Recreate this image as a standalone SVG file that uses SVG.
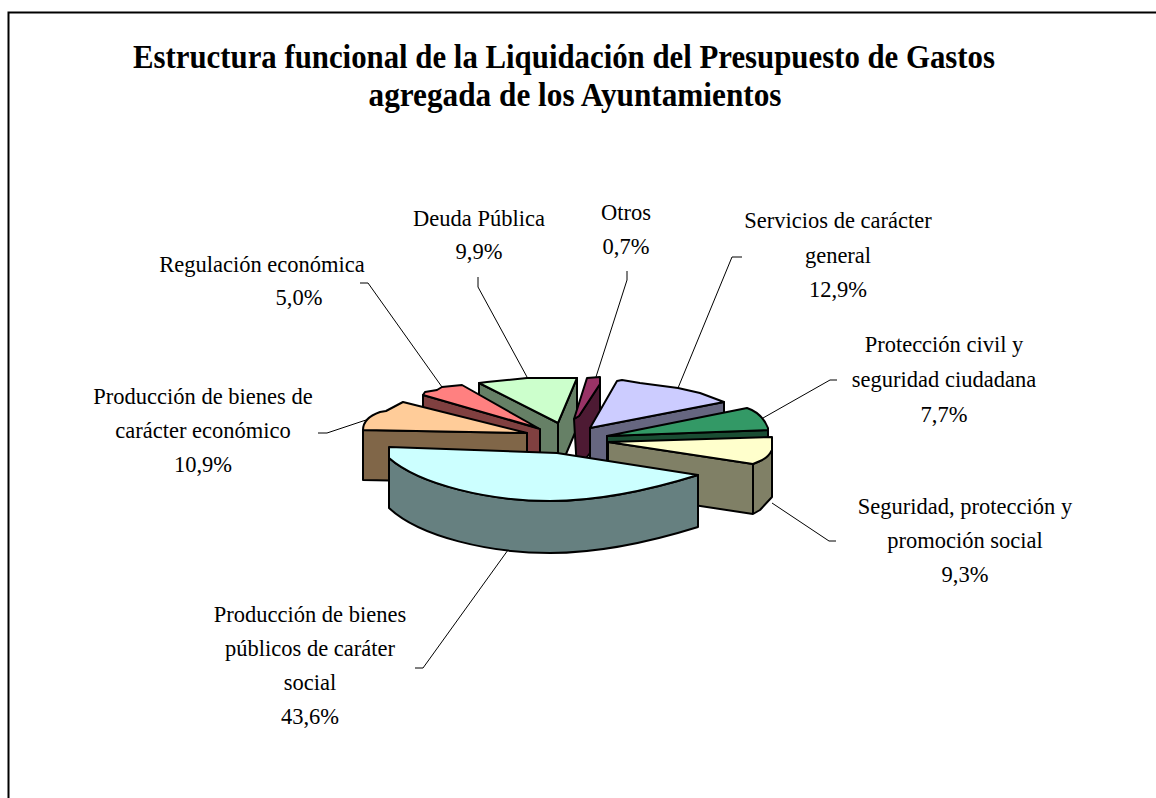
<svg xmlns="http://www.w3.org/2000/svg" width="1156" height="798" viewBox="0 0 1156 798">
<style>
.t{font-family:"Liberation Serif","Times New Roman",serif;font-size:22.5px;fill:#000;text-anchor:middle}
.ti{font-family:"Liberation Serif","Times New Roman",serif;font-size:33px;font-weight:bold;fill:#000;text-anchor:middle}
.s{stroke:#000;stroke-width:2;stroke-linejoin:round}
.ln{fill:none;stroke:#000;stroke-width:1}
</style>
<rect width="1156" height="798" fill="#fff"/>
<path d="M8.5,800 V12.5 H1160" fill="none" stroke="#000" stroke-width="2"/>
<g id="title">
<text class="ti" x="564" y="68" textLength="862" lengthAdjust="spacingAndGlyphs">Estructura funcional de la Liquidación del Presupuesto de Gastos</text>
<text class="ti" x="575" y="106" textLength="413" lengthAdjust="spacingAndGlyphs">agregada de los Ayuntamientos</text>
</g>
<g id="connectors">
<polyline class="ln" points="360,283 368,283 442,387"/>
<polyline class="ln" points="478,277 478,287 527,377"/>
<polyline class="ln" points="627,271 627,280 595,380"/>
<polyline class="ln" points="742,257 732,257 678,388"/>
<polyline class="ln" points="837,380 830,380 763,418"/>
<polyline class="ln" points="318,433 327,433 375,417"/>
<polyline class="ln" points="772,503 829,541 836,541"/>
<polyline class="ln" points="508,550 423,668 415,668"/>
</g>
<g id="slice-deuda">
<path class="s" fill="#668066" d="M479,383 L558,423 L577,378 L577,428 L558,473 L479,433 Z"/>
<path class="s" fill="none" d="M558,423 L558,473"/>
<path class="s" fill="#CCFFCC" d="M479,383 L487,382 L507,380 L527,378 L577,378 L558,423 Z"/>
</g>
<g id="slice-otros">
<path class="s" fill="#4D1A33" d="M600,384 L600,440 L577,470 L574,419 L579,416 Z"/>
<path class="s" fill="#993366" d="M587,378 L600,377 L600,384 L579,416 L574,419 Z"/>
</g>
<g id="slice-servicios">
<path class="s" fill="#666680" d="M590,428 L724,402 L724,452 L590,478 Z"/>
<path class="s" fill="#CCCCFF" d="M590,428 L617,381 L622,380 L640,383 L678,388 L700,393 L724,402 Z"/>
</g>
<g id="slice-proteccion">
<path class="s" fill="#1A4D33" d="M607,436 L768,430 L768,480 L607,486 Z"/>
<path class="s" fill="#339966" d="M607,436 L737,410 L747,408 Q762,413 768,428 L768,430 Z"/>
</g>
<g id="slice-seguridad">
<path class="s" fill="#808066" d="M608,442 L753,464 L760,461 L772,450 L772,497 L760,510 L753,514 L608,492 Z"/>
<path class="s" fill="none" d="M753,464 L753,514"/>
<path class="s" fill="#FFFFCC" d="M608,442 L772,437 L772,450 Q768,458 760,461 L753,464 Z"/>
</g>
<g id="slice-regulacion">
<path class="s" fill="#804040" d="M423,395 L540,429 L540,479 L423,445 Z"/>
<path class="s" fill="#FF8080" d="M423,395 L425,392 L437,390 L442,387 L462,385 L538,428 Z"/>
</g>
<g id="slice-economico">
<path class="s" fill="#806648" d="M363,430 L527,433 L527,483 L363,480 Z"/>
<path class="s" fill="#FFCC99" d="M363,430 Q363,418 380,412 L386,411 L403,402 L527,433 Z"/>
</g>
<g id="slice-social">
<path class="s" fill="#668080" d="M389,458 C420,485 490,501 550,501 C600,501 650,490 698,475 L698,527 C650,542 600,553 550,553 C490,553 420,537 389,508 Z"/>
<path class="s" fill="#CCFFFF" d="M389,447 L557,453 L698,475 C650,490 600,501 550,501 C490,501 420,485 389,458 Z"/>
</g>
<g id="labels">
<text class="t" x="262" y="272">Regulación económica</text>
<text class="t" x="299" y="305">5,0%</text>
<text class="t" x="479" y="226">Deuda Pública</text>
<text class="t" x="479" y="259">9,9%</text>
<text class="t" x="626" y="220">Otros</text>
<text class="t" x="626" y="254">0,7%</text>
<text class="t" x="838" y="228">Servicios de carácter</text>
<text class="t" x="838" y="263">general</text>
<text class="t" x="838" y="297">12,9%</text>
<text class="t" x="944" y="352">Protección civil y</text>
<text class="t" x="944" y="387">seguridad ciudadana</text>
<text class="t" x="944" y="422">7,7%</text>
<text class="t" x="203" y="404">Producción de bienes de</text>
<text class="t" x="203" y="438">carácter económico</text>
<text class="t" x="203" y="472">10,9%</text>
<text class="t" x="965" y="514">Seguridad, protección y</text>
<text class="t" x="965" y="548">promoción social</text>
<text class="t" x="965" y="582">9,3%</text>
<text class="t" x="310" y="622">Producción de bienes</text>
<text class="t" x="310" y="656">públicos de caráter</text>
<text class="t" x="310" y="690">social</text>
<text class="t" x="310" y="724">43,6%</text>
</g>
</svg>
